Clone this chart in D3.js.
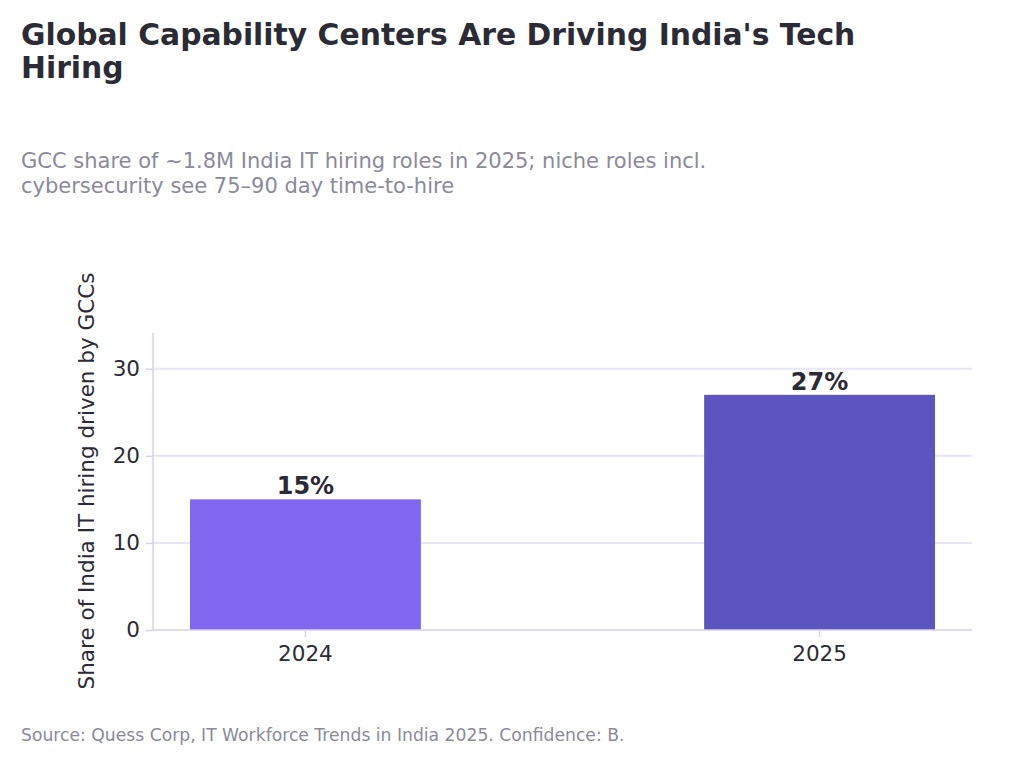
<!DOCTYPE html>
<html><head><meta charset="utf-8">
<script src="https://cdn.jsdelivr.net/npm/d3@7"></script>
<style>body{margin:0;background:#fff;font-family:"DejaVu Sans",sans-serif}</style>
</head><body>
<svg id="chart" width="1024" height="759"></svg>
<script>
var years = ["2024", "2025"];
var shares = [15, 27];
var barColors = ["#7f67f0", "#5c54bf"];
var yTicks = [0, 10, 20, 30];

var svg = d3.select("#chart");
var ink = "#2b2b36", grey = "#8a8a99";

// titles
svg.append("text").attr("x", 21).attr("y", 45).attr("font-size", 29.8).attr("font-weight", "bold").attr("fill", ink).text("Global Capability Centers Are Driving India's Tech");
svg.append("text").attr("x", 21).attr("y", 78).attr("font-size", 29.8).attr("font-weight", "bold").attr("fill", ink).text("Hiring");
svg.append("text").attr("x", 21).attr("y", 168).attr("font-size", 21).attr("fill", grey).text("GCC share of ~1.8M India IT hiring roles in 2025; niche roles incl.");
svg.append("text").attr("x", 21).attr("y", 193).attr("font-size", 21).attr("fill", grey).text("cybersecurity see 75\u201390 day time-to-hire");
svg.append("text").attr("x", 21).attr("y", 741).attr("font-size", 17.2).attr("fill", grey).text("Source: Quess Corp, IT Workforce Trends in India 2025. Confidence: B.");

var x = d3.scaleBand().domain(years).range([153, 972]).paddingInner(0.551).paddingOuter(0.072);
var y = d3.scaleLinear().domain([0, 34.1]).range([630, 333]);

// gridlines
svg.append("g").selectAll("line").data(yTicks.filter(function (d) { return d > 0; })).enter()
    .append("line")
    .attr("x1", 153).attr("x2", 972)
    .attr("y1", function (d) { return y(d); }).attr("y2", function (d) { return y(d); })
    .attr("stroke", "#e8e5f7").attr("stroke-width", 2);

svg.append("g").selectAll("rect").data(shares).enter()
    .append("rect")
    .attr("x", function (d, i) { return x(years[i]); })
    .attr("width", x.bandwidth())
    .attr("y", function (d) { return y(d); })
    .attr("height", function (d) { return y(0) - y(d); })
    .attr("fill", function (d, i) { return barColors[i]; });

svg.append("g").selectAll("text").data(shares).enter()
    .append("text")
    .attr("x", function (d, i) { return x(years[i]) + x.bandwidth() / 2; })
    .attr("y", function (d) { return y(d) - 5; })
    .attr("text-anchor", "middle").attr("font-size", 24).attr("font-weight", "bold").attr("fill", ink)
    .text(function (d) { return d + "%"; });

var yAxis = svg.append("g").attr("transform", "translate(153,0)")
    .call(d3.axisLeft(y).tickValues(yTicks).tickSize(7).tickPadding(6));
var xAxis = svg.append("g").attr("transform", "translate(0,630)")
    .call(d3.axisBottom(x).tickSize(7).tickPadding(6));
[yAxis, xAxis].forEach(function (g) {
    g.selectAll("path,line").attr("stroke", "#d6d3e6").attr("stroke-width", 1.5);
    g.selectAll("text").attr("font-size", 21.5).attr("fill", ink).attr("font-family", "DejaVu Sans");
});
xAxis.select("path").attr("d", "M153,0H972");
yAxis.select("path").attr("d", "M0,630V333");
xAxis.selectAll("text").attr("dy", "0.85em");

svg.append("text").attr("transform", "translate(94,481) rotate(-90)")
    .attr("text-anchor", "middle").attr("font-size", 21.5).attr("fill", ink)
    .text("Share of India IT hiring driven by GCCs");
</script>
</body></html>
